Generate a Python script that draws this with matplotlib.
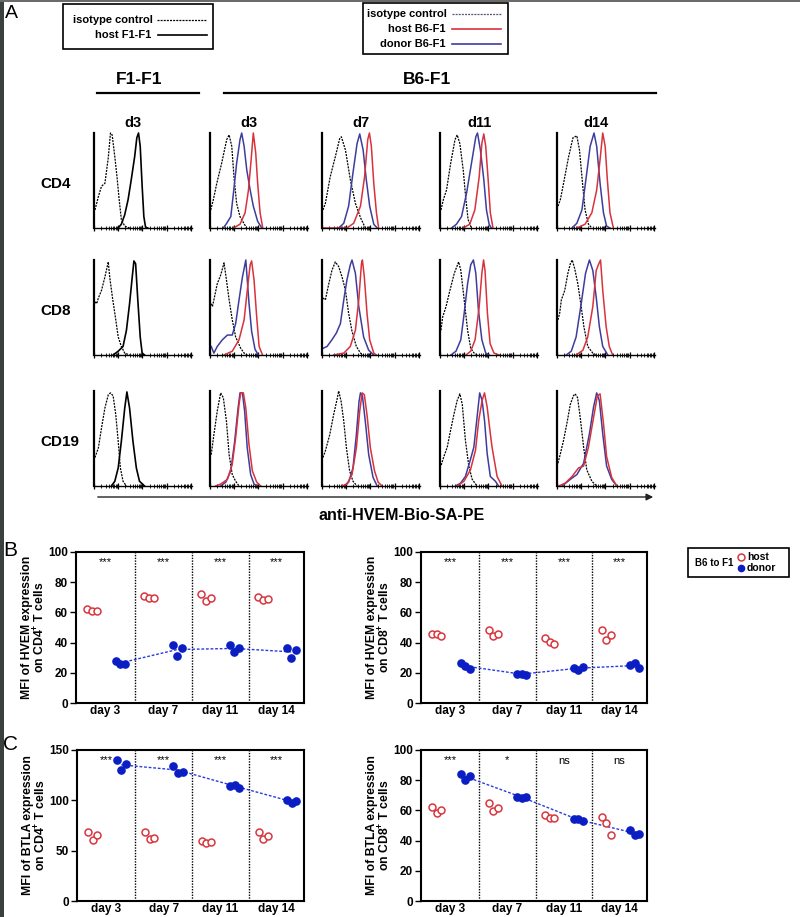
import numpy as np
import matplotlib
matplotlib.use("Agg")
import matplotlib.pyplot as plt
from matplotlib.lines import Line2D
from matplotlib.patches import Rectangle, FancyArrowPatch
from matplotlib.ticker import LogLocator, NullFormatter

plt.rcParams['font.family'] = ['Liberation Sans', 'DejaVu Sans']
plt.rcParams['mathtext.default'] = 'regular'

# ---- panel A: histogram traces, (log10 fluorescence, % of max) ----
cd4_f1_iso = [(0.04,19),(0.18,33),(0.31,44),(0.45,47),(0.59,74),(0.68,100),(0.75,98),(0.86,75),(0.95,54),(1.04,30),(1.13,9),(1.27,2),(1.47,0)]
cd4_f1_host = [(1.0,0),(1.13,4),(1.27,14),(1.41,30),(1.54,51),(1.68,75),(1.77,95),(1.84,100),(1.91,86),(1.99,44),(2.06,12),(2.13,1),(2.22,0)]
cd4_d3_iso = [(0.03,19),(0.14,30),(0.28,47),(0.48,68),(0.69,93),(0.79,98),(0.90,86),(0.99,54),(1.10,26),(1.24,12),(1.42,4),(1.52,0)]
cd4_d3_host = [(0.97,0),(1.24,4),(1.45,16),(1.59,40),(1.70,72),(1.79,100),(1.89,79),(1.97,47),(2.07,16),(2.18,0)]
cd4_d3_donor = [(0.55,0),(0.69,5),(0.86,12),(0.97,37),(1.10,68),(1.24,93),(1.31,100),(1.41,86),(1.52,61),(1.66,40),(1.79,23),(1.97,7),(2.14,0)]
cd4_d7_iso = [(0.04,19),(0.14,26),(0.34,54),(0.55,75),(0.73,94),(0.80,96),(0.97,82),(1.17,51),(1.38,26),(1.59,11),(1.79,0)]
cd4_d7_host = [(0.0,0),(1.03,0),(1.31,5),(1.59,23),(1.76,54),(1.89,93),(1.96,100),(2.04,86),(2.14,47),(2.25,16),(2.34,0)]
cd4_d7_donor = [(0.69,0),(0.90,5),(1.10,23),(1.28,58),(1.45,89),(1.56,99),(1.70,82),(1.83,51),(1.97,23),(2.14,4),(2.28,0)]
cd4_d11_iso = [(0.04,19),(0.14,30),(0.27,40),(0.44,68),(0.62,93),(0.71,98),(0.82,89),(0.96,61),(1.07,30),(1.16,9),(1.30,0)]
cd4_d11_host = [(0.96,0),(1.23,4),(1.44,19),(1.62,54),(1.73,89),(1.81,99),(1.89,86),(1.99,51),(2.08,16),(2.19,0)]
cd4_d11_donor = [(0.48,0),(0.68,4),(0.89,12),(1.10,37),(1.30,68),(1.48,96),(1.55,100),(1.67,82),(1.81,51),(1.92,19),(2.03,4),(2.12,0)]
cd4_d14_iso = [(0.04,23),(0.14,30),(0.27,47),(0.48,75),(0.66,95),(0.82,97),(0.93,82),(1.04,51),(1.16,19),(1.30,4),(1.44,0)]
cd4_d14_host = [(0.82,0),(1.16,4),(1.44,16),(1.64,40),(1.78,72),(1.89,100),(1.99,86),(2.08,51),(2.19,16),(2.33,0)]
cd4_d14_donor = [(0.62,0),(0.82,5),(1.03,19),(1.21,54),(1.37,86),(1.53,100),(1.64,86),(1.78,47),(1.92,16),(2.05,2),(2.19,0)]

cd8_f1_iso = [(0.04,56),(0.11,54),(0.18,60),(0.31,68),(0.45,82),(0.59,98),(0.65,82),(0.76,61),(0.90,37),(1.0,19),(1.13,9),(1.27,2),(1.47,0)]
cd8_f1_host = [(0.79,0),(1.0,4),(1.2,9),(1.34,26),(1.47,54),(1.58,82),(1.65,99),(1.72,96),(1.81,58),(1.91,19),(1.99,2),(2.09,0)]
cd8_d3_iso = [(0.05,54),(0.10,51),(0.16,58),(0.30,75),(0.44,84),(0.58,97),(0.68,79),(0.79,58),(0.92,37),(1.06,19),(1.27,7),(1.41,2),(1.54,0)]
cd8_d3_host = [(0.58,0),(0.92,4),(1.20,16),(1.41,37),(1.54,68),(1.66,95),(1.72,99),(1.82,79),(1.93,40),(2.03,9),(2.17,0)]
cd8_d3_donor = [(0.05,9),(0.16,2),(0.30,9),(0.51,16),(0.72,21),(0.92,21),(1.06,33),(1.20,58),(1.34,82),(1.48,100),(1.61,55),(1.72,25),(1.86,6),(2.0,0)]
cd8_d7_iso = [(0.04,60),(0.14,58),(0.28,75),(0.41,89),(0.55,98),(0.69,93),(0.83,82),(0.97,68),(1.10,44),(1.24,25),(1.42,9),(1.59,2),(1.72,0)]
cd8_d7_host = [(0.48,0),(0.90,2),(1.17,9),(1.38,26),(1.52,58),(1.63,96),(1.67,100),(1.75,82),(1.86,44),(1.97,16),(2.14,2),(2.25,0)]
cd8_d7_donor = [(0.04,7),(0.21,9),(0.41,16),(0.59,23),(0.76,33),(0.90,58),(1.03,79),(1.17,95),(1.24,100),(1.38,86),(1.52,51),(1.72,19),(1.93,5),(2.14,0)]
cd8_d11_iso = [(0.04,26),(0.11,40),(0.25,51),(0.38,65),(0.59,86),(0.77,98),(0.86,89),(1.0,58),(1.14,26),(1.27,7),(1.41,2),(1.55,0)]
cd8_d11_host = [(1.07,0),(1.27,4),(1.45,16),(1.62,51),(1.73,86),(1.80,100),(1.86,89),(1.96,44),(2.07,12),(2.23,2),(2.44,0)]
cd8_d11_donor = [(0.45,0),(0.66,4),(0.86,16),(1.0,44),(1.14,75),(1.27,95),(1.38,100),(1.48,86),(1.59,47),(1.73,16),(1.89,2),(2.03,0)]
cd8_d14_iso = [(0.04,37),(0.11,44),(0.18,58),(0.32,68),(0.45,86),(0.55,96),(0.63,100),(0.73,91),(0.86,75),(1.0,51),(1.11,30),(1.27,9),(1.48,2),(1.62,0)]
cd8_d14_host = [(0.79,0),(1.07,5),(1.27,19),(1.48,51),(1.62,89),(1.71,95),(1.80,100),(1.89,68),(2.03,30),(2.16,9),(2.30,0)]
cd8_d14_donor = [(0.38,0),(0.59,4),(0.79,19),(1.0,54),(1.18,86),(1.34,100),(1.48,89),(1.62,61),(1.75,30),(1.89,9),(2.10,0)]

cd19_f1_iso = [(0.04,30),(0.18,40),(0.31,61),(0.45,82),(0.59,96),(0.68,98),(0.79,95),(0.90,75),(1.0,47),(1.09,19),(1.20,5),(1.34,0)]
cd19_f1_host = [(0.72,0),(0.86,5),(1.0,19),(1.13,47),(1.27,82),(1.36,99),(1.47,82),(1.61,47),(1.75,19),(1.88,5),(2.09,0)]
cd19_d3_iso = [(0.05,33),(0.16,54),(0.30,79),(0.44,98),(0.55,93),(0.68,68),(0.79,33),(0.92,12),(1.06,5),(1.20,0)]
cd19_d3_host = [(0.23,0),(0.44,2),(0.72,7),(0.92,23),(1.06,51),(1.20,86),(1.27,98),(1.38,98),(1.48,82),(1.61,44),(1.75,16),(1.93,4),(2.10,0)]
cd19_d3_donor = [(0.44,0),(0.65,4),(0.86,16),(1.02,47),(1.16,82),(1.24,98),(1.34,98),(1.43,79),(1.54,40),(1.68,12),(1.82,2),(1.96,0)]
cd19_d7_iso = [(0.04,30),(0.14,37),(0.32,54),(0.48,75),(0.62,91),(0.69,100),(0.79,89),(0.90,68),(1.01,40),(1.14,16),(1.28,5),(1.45,0)]
cd19_d7_host = [(0.83,0),(1.03,2),(1.24,12),(1.42,40),(1.56,79),(1.66,98),(1.75,96),(1.86,75),(2.0,40),(2.17,16),(2.32,4),(2.48,0)]
cd19_d7_donor = [(0.90,0),(1.10,4),(1.28,19),(1.42,54),(1.53,89),(1.59,98),(1.67,95),(1.79,68),(1.93,33),(2.11,9),(2.28,0)]
cd19_d11_iso = [(0.05,22),(0.16,31),(0.30,41),(0.44,59),(0.58,76),(0.71,90),(0.82,97),(0.92,86),(1.05,48),(1.19,21),(1.33,7),(1.53,0)]
cd19_d11_host = [(0.71,0),(0.99,5),(1.26,17),(1.47,38),(1.60,69),(1.74,90),(1.84,98),(1.95,83),(2.08,55),(2.15,41),(2.36,10),(2.56,0)]
cd19_d11_donor = [(0.64,0),(0.85,3),(1.05,10),(1.26,28),(1.40,41),(1.53,72),(1.64,98),(1.74,90),(1.84,69),(1.95,34),(2.08,10),(2.29,5),(2.42,0)]
cd19_d14_iso = [(0.04,24),(0.14,34),(0.27,48),(0.41,66),(0.55,86),(0.68,95),(0.75,97),(0.85,93),(0.96,72),(1.10,41),(1.23,17),(1.44,5),(1.64,0)]
cd19_d14_host = [(0.07,0),(0.34,3),(0.62,10),(0.89,19),(1.10,21),(1.30,41),(1.51,72),(1.67,95),(1.78,97),(1.92,66),(2.05,31),(2.26,9),(2.47,0)]
cd19_d14_donor = [(0.21,0),(0.55,7),(0.82,12),(1.10,24),(1.34,55),(1.51,83),(1.64,98),(1.75,90),(1.89,55),(2.05,21),(2.26,7),(2.47,0)]

hist_rows = ["CD4", "CD8", "CD19"]
hist_cols = ["d3", "d3", "d7", "d11", "d14"]

# ---- panels B / C: MFI per mouse ----
days = ["day 3", "day 7", "day 11", "day 14"]
hvem_cd4_host = [[62, 61, 61], [70.6, 69.8, 69.8], [72, 67.5, 69.8], [70.2, 68, 68.9]]
hvem_cd4_donor = [[27.6, 26, 26], [38.6, 31.1, 36.6], [38.2, 33.8, 36.4], [36.6, 30, 34.9]]
hvem_cd8_host = [[45.5, 45.9, 44.2], [48.1, 44.4, 45.5], [43, 40.4, 39.3], [48.1, 41.9, 45.3]]
hvem_cd8_donor = [[26.5, 24.3, 22.5], [19.4, 19.4, 18.5], [23.2, 22.1, 23.8], [24.9, 26.5, 23]]
btla_cd4_host = [[68.6, 60.7, 65.3], [68.6, 62, 62.6], [60, 57.7, 59], [68.6, 62, 65]]
btla_cd4_donor = [[139.8, 130.2, 135.8], [134.2, 127.6, 128.2], [114.4, 115.4, 112.7], [100.5, 96.9, 98.9]]
btla_cd8_host = [[62.4, 58.2, 60.2], [64.6, 59.3, 61.5], [56.7, 54.9, 54.7], [55.8, 51.4, 43.5]]
btla_cd8_donor = [[84.4, 80.2, 82.9], [69.2, 67.9, 69.2], [54.3, 54.1, 53.2], [47, 43.5, 44.4]]
hvem_cd4_sig = ["***", "***", "***", "***"]
hvem_cd8_sig = ["***", "***", "***", "***"]
btla_cd4_sig = ["***", "***", "***", "***"]
btla_cd8_sig = ["***", "*", "ns", "ns"]

RED = '#d8323c'
NAVY = '#3d3d9e'
DOT_RED = '#d9363e'
DOT_BLUE = '#0b1ec4'

W, H = 800, 917
fig = plt.figure(figsize=(W / 100, H / 100), dpi=100)


def fx(x):
    return x / W


def fy(y):
    return 1 - y / H


def px_axes(x0, y0, x1, y1):
    return fig.add_axes([fx(x0), fy(y1), (x1 - x0) / W, (y1 - y0) / H])


def fig_line(x0, x1, y, **kw):
    fig.add_artist(Line2D([fx(x0), fx(x1)], [fy(y), fy(y)], transform=fig.transFigure, **kw))


def fig_box(x0, y0, x1, y1):
    fig.add_artist(Rectangle((fx(x0), fy(y1)), (x1 - x0) / W, (y1 - y0) / H,
                             transform=fig.transFigure, fill=False, ec='k', lw=1.2))


# background decoration (scan edge)
fig.add_artist(Rectangle((0, 0), fx(4), 1, transform=fig.transFigure, color='#3a403c', lw=0))
fig.add_artist(Rectangle((0, fy(2)), 1, 2 / H, transform=fig.transFigure, color='#6a6a6a', lw=0))

# ---- panel A ----
fig.text(fx(5), fy(13), "A", fontsize=14, va='center', ha='left')

iso_ls = (0, (1.6, 0.9))
fig_box(63, 4, 213, 49)
fig.text(fx(153), fy(20), "isotype control", fontsize=8, fontweight='bold', ha='right', va='center')
fig_line(157, 207, 20, color='k', lw=0.9, ls=iso_ls)
fig.text(fx(151), fy(35), "host F1-F1", fontsize=8, fontweight='bold', ha='right', va='center')
fig_line(158, 207, 35, color='k', lw=1.2)

fig_box(363, 3, 508, 54)
fig.text(fx(447), fy(14), "isotype control", fontsize=8, fontweight='bold', ha='right', va='center')
fig_line(452, 501, 14, color='#555577', lw=0.9, ls=iso_ls)
fig.text(fx(446), fy(29), "host B6-F1", fontsize=8, fontweight='bold', ha='right', va='center')
fig_line(452, 501, 29, color=RED, lw=1.2)
fig.text(fx(446), fy(44), "donor B6-F1", fontsize=8, fontweight='bold', ha='right', va='center')
fig_line(452, 501, 44, color=NAVY, lw=1.2)

fig.text(fx(139), fy(80), "F1-F1", fontsize=12.5, fontweight='bold', ha='center', va='center')
fig.text(fx(427), fy(80), "B6-F1", fontsize=12.5, fontweight='bold', ha='center', va='center')
fig_line(97, 199, 93, color='k', lw=1.6)
fig_line(224, 656, 93, color='k', lw=1.6)

hist_data = [
    [(cd4_f1_iso, cd4_f1_host, None), (cd4_d3_iso, cd4_d3_host, cd4_d3_donor),
     (cd4_d7_iso, cd4_d7_host, cd4_d7_donor), (cd4_d11_iso, cd4_d11_host, cd4_d11_donor),
     (cd4_d14_iso, cd4_d14_host, cd4_d14_donor)],
    [(cd8_f1_iso, cd8_f1_host, None), (cd8_d3_iso, cd8_d3_host, cd8_d3_donor),
     (cd8_d7_iso, cd8_d7_host, cd8_d7_donor), (cd8_d11_iso, cd8_d11_host, cd8_d11_donor),
     (cd8_d14_iso, cd8_d14_host, cd8_d14_donor)],
    [(cd19_f1_iso, cd19_f1_host, None), (cd19_d3_iso, cd19_d3_host, cd19_d3_donor),
     (cd19_d7_iso, cd19_d7_host, cd19_d7_donor), (cd19_d11_iso, cd19_d11_host, cd19_d11_donor),
     (cd19_d14_iso, cd19_d14_host, cd19_d14_donor)],
]

row_top = [133, 260, 391]
row_h = 95
col_left = [94, 210, 322, 440, 557]
col_w = 98


def trace(ax, pts, **kw):
    d = np.array(pts, dtype=float)
    ax.plot(10 ** d[:, 0], d[:, 1], clip_on=False, solid_joinstyle='round', **kw)


for r, name in enumerate(hist_rows):
    fig.text(fx(40), fy(row_top[r] + row_h / 2 + 3), name, fontsize=11, fontweight='bold',
             ha='left', va='center')
    for c, day in enumerate(hist_cols):
        ax = px_axes(col_left[c], row_top[r], col_left[c] + col_w, row_top[r] + row_h)
        iso, host, donor = hist_data[r][c]
        trace(ax, iso, color='k', lw=0.9, ls=iso_ls)
        if donor is None:
            trace(ax, host, color='k', lw=1.2)
        else:
            trace(ax, donor, color=NAVY, lw=1.1)
            trace(ax, host, color=RED, lw=1.1)
        ax.set_xscale('log')
        ax.set_xlim(1, 10 ** 4.05)
        ax.set_ylim(0, 100)
        ax.set_yticks([])
        ax.xaxis.set_major_locator(LogLocator(base=10, numticks=10))
        ax.xaxis.set_minor_locator(LogLocator(base=10, subs=np.arange(2, 10), numticks=50))
        ax.xaxis.set_minor_formatter(NullFormatter())
        ax.spines['top'].set_visible(False)
        ax.spines['right'].set_visible(False)
        ax.spines['left'].set_linewidth(1.6)
        ax.spines['bottom'].set_linewidth(1.0)
        ax.tick_params(axis='x', which='major', length=4, width=0.9, direction='inout', labelbottom=False)
        ax.tick_params(axis='x', which='minor', length=2.5, width=0.6, direction='inout', labelbottom=False)
        ax.patch.set_alpha(0)
        if r == 0:
            ax.text(0.4, 1.11, day, transform=ax.transAxes, fontsize=10.5, fontweight='bold',
                    ha='center', va='center')

fig.add_artist(FancyArrowPatch((fx(95), fy(497)), (fx(656), fy(497)), transform=fig.transFigure,
                               arrowstyle='-|>', mutation_scale=10, lw=1.0, color='#222222'))
fig.text(fx(402), fy(515), "anti-HVEM-Bio-SA-PE", fontsize=11.5, fontweight='bold',
         ha='center', va='center')

# ---- panels B and C ----
host_dx = np.array([0.2, 0.28, 0.36])
donor_dx = np.array([0.7, 0.78, 0.86])


def mfi_panel(rect, host, donor, ymax, yticks, sig, ylabel):
    ax = px_axes(*rect)
    n = len(days)
    seps = [i + (donor_dx[-1] + 1 + host_dx[0]) / 2 for i in range(n - 1)]
    edges = [0] + seps + [n]
    centers = [(edges[i] + edges[i + 1]) / 2 for i in range(n)]
    for s in seps:
        ax.axvline(s, color='k', ls=(0, (1, 1)), lw=1)
    mx, my = [], []
    for i in range(n):
        ax.plot(i + host_dx, host[i], ls='none', marker='o', ms=5, mfc='white', mec=DOT_RED, mew=1.1,
                zorder=3)
        ax.plot(i + donor_dx, donor[i], ls='none', marker='o', ms=5.2, mfc=DOT_BLUE, mec=DOT_BLUE,
                zorder=3)
        mx.append(i + donor_dx.mean())
        my.append(np.mean(donor[i]))
        ax.text(centers[i], 0.93 * ymax, sig[i], ha='center', va='center', fontsize=8)
    ax.plot(mx, my, color='#2a3ae0', ls=(0, (2, 1.3)), lw=1, zorder=2)
    ax.set_xlim(0, n)
    ax.set_ylim(0, ymax)
    ax.set_yticks(yticks)
    ax.set_xticks(centers)
    ax.set_xticklabels(days)
    for lab in ax.get_xticklabels() + ax.get_yticklabels():
        lab.set_fontweight('bold')
    ax.tick_params(axis='x', length=0, pad=1.5, labelsize=8.5)
    ax.tick_params(axis='y', length=4, width=1, direction='out', labelsize=8.5, pad=2)
    for sp in ax.spines.values():
        sp.set_linewidth(1.5)
    ax.set_ylabel(ylabel, fontsize=8.8, fontweight='bold', labelpad=0, linespacing=0.95)
    return ax


mfi_panel((76, 552, 304, 703), hvem_cd4_host, hvem_cd4_donor, 100, [0, 20, 40, 60, 80, 100],
          hvem_cd4_sig, "MFI of HVEM expression\non CD4$^{+}$ T cells")
mfi_panel((421, 552, 647, 703), hvem_cd8_host, hvem_cd8_donor, 100, [0, 20, 40, 60, 80, 100],
          hvem_cd8_sig, "MFI of HVEM expression\non CD8$^{+}$ T cells")
mfi_panel((77, 750, 304, 901), btla_cd4_host, btla_cd4_donor, 150, [0, 50, 100, 150],
          btla_cd4_sig, "MFI of BTLA expression\non CD4$^{+}$ T cells")
mfi_panel((421, 750, 647, 901), btla_cd8_host, btla_cd8_donor, 100, [0, 20, 40, 60, 80, 100],
          btla_cd8_sig, "MFI of BTLA expression\non CD8$^{+}$ T cells")

fig.text(fx(3), fy(550), "B", fontsize=15, va='center', ha='left')
fig.text(fx(3), fy(744), "C", fontsize=15, va='center', ha='left')

# legend for B/C
fig_box(688, 548, 789, 577)
fig.text(fx(695), fy(563), "B6 to F1", fontsize=7, fontweight='bold', ha='left', va='center')
fig.add_artist(Line2D([fx(741)], [fy(557)], transform=fig.transFigure, ls='none', marker='o', ms=5,
                      mfc='white', mec=DOT_RED, mew=1.1))
fig.add_artist(Line2D([fx(741)], [fy(568)], transform=fig.transFigure, ls='none', marker='o', ms=4.5,
                      mfc=DOT_BLUE, mec=DOT_BLUE))
fig.text(fx(747), fy(557), "host", fontsize=7.5, fontweight='bold', ha='left', va='center')
fig.text(fx(747), fy(568), "donor", fontsize=7.5, fontweight='bold', ha='left', va='center')

fig.savefig("out.png", dpi=100)
